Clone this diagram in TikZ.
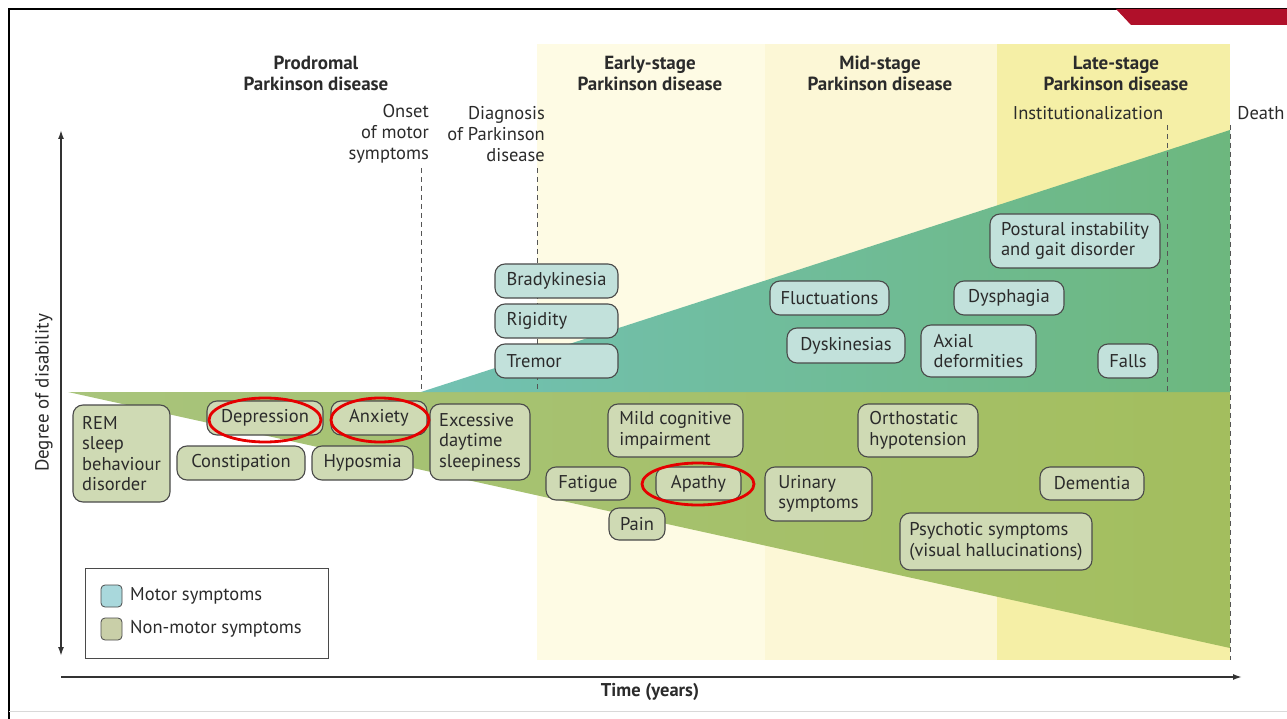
\documentclass[tikz,border=0pt]{standalone}
\usepackage{fontspec}
\setmainfont{PT Sans}
\usetikzlibrary{shapes.geometric,arrows.meta}
\definecolor{txt}{HTML}{2B2B2B}
\definecolor{boxline}{HTML}{4A4A4A}
\definecolor{mbfill}{HTML}{C2E1DB}
\definecolor{nbfill}{HTML}{CFDAB4}
\definecolor{mL}{HTML}{72C1B3}
\definecolor{mR}{HTML}{6DB77E}
\definecolor{nL}{HTML}{A8C47C}
\definecolor{nR}{HTML}{A3BE5E}
\definecolor{bgE}{HTML}{FEFBE4}
\definecolor{bgM}{HTML}{FCF7D6}
\definecolor{bgL}{HTML}{F5EFA6}
\definecolor{legM}{HTML}{A9D8DC}
\definecolor{legN}{HTML}{C9CFA8}
\definecolor{darkred}{HTML}{B0102A}
\definecolor{axisc}{HTML}{333333}
\definecolor{dashc}{HTML}{555555}
\begin{document}
\begin{tikzpicture}[x=1pt,y=-1pt,
  font=\fontsize{18.5}{20.5}\selectfont, text=txt,
  mbox/.style={draw=boxline, fill=mbfill, rounded corners=10pt, line width=1.1pt, inner sep=0pt},
  nbox/.style={draw=boxline, fill=nbfill, rounded corners=10pt, line width=1.1pt, inner sep=0pt},
  redring/.style={draw=red!90!black, line width=2.8pt, ellipse, inner sep=0pt},
  stage/.style={font=\fontsize{19}{21}\selectfont\bfseries, align=center},
  milestone/.style={font=\fontsize{18.5}{21}\selectfont},
  vdash/.style={draw=dashc, line width=0.9pt, dash pattern=on 5pt off 4pt},
  axisline/.style={draw=axisc, line width=1.6pt},
  swatch/.style={draw=boxline, rounded corners=4pt, line width=0.8pt, minimum width=21, minimum height=22, inner sep=0pt}
]
\useasboundingbox (0,0) rectangle (1287,719);
\fill[white] (0,0) rectangle (1287,719);
% stage backgrounds
\fill[bgE] (537,44) rectangle (765,660);
\fill[bgM] (765,44) rectangle (997,660);
\fill[bgL] (997,44) rectangle (1230,660);
% wedges
\shade[left color=nL, right color=nR] (68,392) -- (1230,392) -- (1230,648) -- cycle;
\shade[left color=mL, right color=mR] (421,392) -- (1230,130) -- (1230,392) -- cycle;
% frame
\draw[line width=2pt] (9,719) -- (9,9) -- (1287,9);
\draw[black!15, line width=1pt] (9,711) -- (1287,711);
\fill[darkred] (1116,9) -- (1287,9) -- (1287,25) -- (1131,25) -- cycle;
% stage titles
\node[stage] (prod) at (316,73) {Prodromal\\Parkinson disease};
\node[stage] (early) at (650,73) {Early-stage\\Parkinson disease};
\node[stage] (mid) at (880,73) {Mid-stage\\Parkinson disease};
\node[stage] (late) at (1116,73) {Late-stage\\Parkinson disease};
% milestones
\node[milestone, anchor=east, align=right, inner sep=0pt] (onset) at (429,134) {Onset\\of motor\\symptoms};
\node[milestone, anchor=east, align=right, inner sep=0pt] (diag) at (545,134) {Diagnosis\\of Parkinson\\disease};
\node[milestone] (inst) at (1088,113) {Institutionalization};
\node[milestone] (death) at (1261,113) {Death};
\coordinate (onsetTop) at (421,168); \coordinate (onsetBot) at (421,392);
\coordinate (diagTop) at (537,168); \coordinate (diagBot) at (537,392);
\coordinate (instTop) at (1167,125); \coordinate (instBot) at (1167,392);
\coordinate (deathTop) at (1230,125); \coordinate (deathBot) at (1230,660);
\draw[vdash] (onsetTop) -- (onsetBot);
\draw[vdash] (diagTop) -- (diagBot);
\draw[vdash] (instTop) -- (instBot);
\draw[vdash] (deathTop) -- (deathBot);
% axes
\coordinate (yTop) at (61,130); \coordinate (yBot) at (61,656);
\coordinate (xL) at (61,677); \coordinate (xR) at (1242,677);
\draw[axisline, {Latex[length=9pt,width=6pt]}-{Latex[length=9pt,width=6pt]}] (yTop) -- (yBot);
\draw[axisline, -{Latex[length=9pt,width=6pt]}] (xL) -- (xR);
\node[rotate=90, font=\fontsize{19}{21}\selectfont] (ylab) at (44,393) {Degree of disability};
\node[font=\fontsize{18.5}{21}\selectfont\bfseries] (xlab) at (650,692) {Time (years)};
% motor boxes
\node[mbox, minimum width=123, minimum height=34, text width=100, align=left] (brady) at (556.5,281) {Bradykinesia};
\node[mbox, minimum width=123, minimum height=34, text width=100, align=left] (rigid) at (556.5,321) {Rigidity};
\node[mbox, minimum width=123, minimum height=34, text width=100, align=left] (tremor) at (556.5,361) {Tremor};
\node[mbox, minimum width=119, minimum height=34] (fluct) at (829.5,298) {Fluctuations};
\node[mbox, minimum width=118, minimum height=35] (dysk) at (846,345.5) {Dyskinesias};
\node[mbox, minimum width=170, minimum height=54, align=left] (postural) at (1075,241) {Postural instability\\and gait disorder};
\node[mbox, minimum width=110, minimum height=34] (dysph) at (1009,298) {Dysphagia};
\node[mbox, minimum width=115, minimum height=52, align=left] (axial) at (978.5,351) {Axial\\deformities};
\node[mbox, minimum width=60, minimum height=34] (falls) at (1128,361) {Falls};
% non-motor boxes
\node[nbox, minimum width=97, minimum height=97, align=left] (rem) at (121.5,453.5) {REM\\sleep\\behaviour\\disorder};
\node[nbox, minimum width=116, minimum height=34] (depr) at (265,418) {Depression};
\node[nbox, minimum width=96, minimum height=34] (anx) at (379,418) {Anxiety};
\node[nbox, minimum width=128, minimum height=34] (const) at (241,463) {Constipation};
\node[nbox, minimum width=101, minimum height=34] (hypo) at (362.5,463) {Hyposmia};
\node[nbox, minimum width=100, minimum height=76, align=left] (eds) at (480,442) {Excessive\\daytime\\sleepiness};
\node[nbox, minimum width=135, minimum height=53, align=left] (mci) at (675.5,430.5) {Mild cognitive\\impairment};
\node[nbox, minimum width=84, minimum height=33] (fatigue) at (588,483.5) {Fatigue};
\node[nbox, minimum width=85, minimum height=33] (apathy) at (698.5,483.5) {Apathy};
\node[nbox, minimum width=56, minimum height=32] (pain) at (637,524) {Pain};
\node[nbox, minimum width=120, minimum height=53, align=left] (ortho) at (918,430.5) {Orthostatic\\hypotension};
\node[nbox, minimum width=107, minimum height=54, align=left] (urin) at (818.5,494) {Urinary\\symptoms};
\node[nbox, minimum width=104, minimum height=33] (dem) at (1092,483.5) {Dementia};
\node[nbox, minimum width=192, minimum height=57, align=left] (psych) at (996,541.5) {Psychotic symptoms\\(visual hallucinations)};
% red highlight ellipses
\node[redring, minimum width=112, minimum height=44] (rDep) at (265,420) {};
\node[redring, minimum width=98, minimum height=44] (rAnx) at (380,420) {};
\node[redring, minimum width=112, minimum height=42] (rApa) at (698,484) {};
% legend
\node[draw=boxline, line width=0.9pt, minimum width=243, minimum height=90, inner sep=0pt] (legend) at (206.5,613) {};
\node[swatch, fill=legM] (swM) at (111.5,596) {};
\node[swatch, fill=legN] (swN) at (111.5,629) {};
\node[anchor=west, inner sep=0pt] (legMt) at (130,596) {Motor symptoms};
\node[anchor=west, inner sep=0pt] (legNt) at (130,629) {Non-motor symptoms};
\end{tikzpicture}
\end{document}
